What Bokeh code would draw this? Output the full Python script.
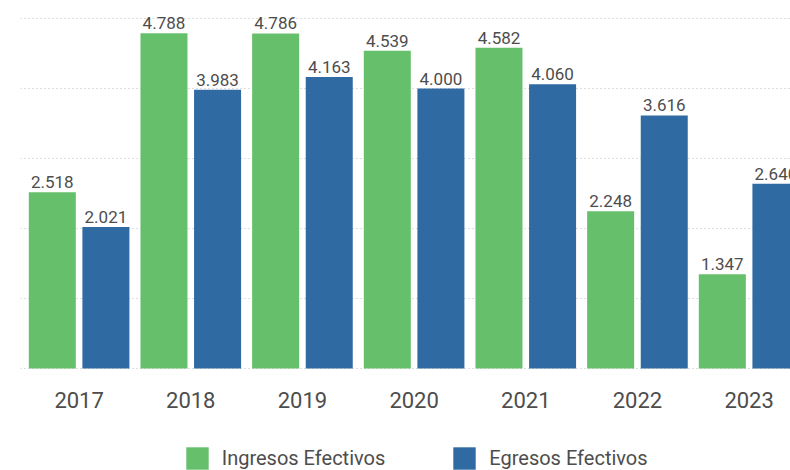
from bokeh.plotting import figure
from bokeh.models import ColumnDataSource, Range1d, FixedTicker, Legend, LegendItem, LabelSet
from bokeh.core.properties import value
from bokeh.embed import file_html
from bokeh.resources import INLINE

years = ["2017", "2018", "2019", "2020", "2021", "2022", "2023"]
ingresos = [2.518, 4.788, 4.786, 4.539, 4.582, 2.248, 1.347]
egresos = [2.021, 3.983, 4.163, 4.000, 4.060, 3.616, 2.640]
series_names = ["Ingresos Efectivos", "Egresos Efectivos"]
y_ticks = [0, 1, 2, 3, 4, 5]

GREEN = "#66bf6b"
BLUE = "#306aa3"
TXT = "#4d4d4d"
FONT = "Roboto"

idx = list(range(len(years)))
DODGE = 0.240
BW = 0.421
PX = 70.0                 # pixels per unit on y
YEAR_Y = -31.0 / PX       # year labels sit ~31px below the baseline

def fmt(v):
    return f"{v:.3f}"

src_i = ColumnDataSource(dict(x=[i - DODGE for i in idx], y=ingresos, lbl=[fmt(v) for v in ingresos]))
src_e = ColumnDataSource(dict(x=[i + DODGE for i in idx], y=egresos, lbl=[fmt(v) for v in egresos]))
src_y = ColumnDataSource(dict(x=idx, y=[YEAR_Y] * len(idx), lbl=years))

p = figure(width=790, height=470, output_backend="svg", toolbar_location=None,
           x_range=Range1d(-0.5248, 6.3706), y_range=Range1d(-102.0 / PX, 360.0 / PX),
           min_border_left=20, min_border_right=0, min_border_top=8, min_border_bottom=0)
p.outline_line_color = None
p.background_fill_color = "white"
p.border_fill_color = "white"
p.xaxis.visible = False
p.yaxis.visible = False
p.xgrid.visible = False
p.ygrid.ticker = FixedTicker(ticks=y_ticks)
p.ygrid.grid_line_color = "#bdbdbd"
p.ygrid.grid_line_dash = "1 3"
p.ygrid.grid_line_width = 1

r1 = p.vbar(x="x", top="y", bottom=0, width=BW, source=src_i, fill_color=GREEN, line_color=None)
r2 = p.vbar(x="x", top="y", bottom=0, width=BW, source=src_e, fill_color=BLUE, line_color=None)

for s in (src_i, src_e):
    p.text(x="x", y="y", text="lbl", source=s, text_align="center", text_baseline="bottom",
           y_offset=-4, text_font=value(FONT), text_font_size="17px", text_color=TXT)

p.add_layout(LabelSet(x="x", y="y", text="lbl", source=src_y, text_align="center",
                      text_baseline="middle", text_font=value(FONT), text_font_size="22px",
                      text_color=TXT))

legend = Legend(items=[LegendItem(label=series_names[0], renderers=[r1]),
                       LegendItem(label=series_names[1], renderers=[r2])],
                orientation="horizontal", location=(162.7, -1.7),
                glyph_width=28, glyph_height=28, label_height=28, label_standoff=11,
                spacing=65, padding=0, margin=0, border_line_color=None,
                background_fill_alpha=0,
                label_text_font=FONT, label_text_font_size="20px", label_text_color=TXT)
p.add_layout(legend, "center")

open("out.html", "w").write(file_html(p, INLINE))
